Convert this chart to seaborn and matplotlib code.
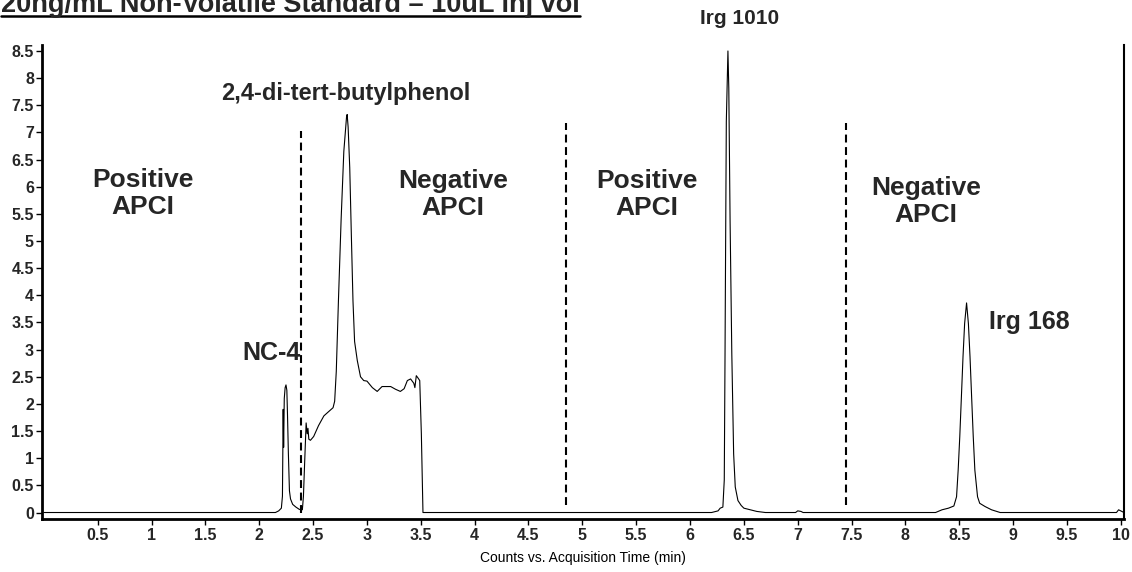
import matplotlib
matplotlib.use("Agg")
import matplotlib.pyplot as plt
import seaborn as sns
import pandas as pd
import numpy as np
from matplotlib.lines import Line2D
from matplotlib.ticker import FuncFormatter

# ---- data ----
time_min = [0.0, 2.15, 2.18, 2.205, 2.215, 2.222, 2.226, 2.232, 2.24, 2.248, 2.256,
            2.262, 2.27, 2.28, 2.29, 2.31, 2.34, 2.37, 2.385, 2.392, 2.40, 2.41,
            2.42, 2.435, 2.445, 2.452, 2.46, 2.475, 2.505, 2.55, 2.60, 2.645,
            2.685, 2.70, 2.715, 2.735, 2.76, 2.785, 2.81, 2.816, 2.825, 2.84,
            2.855, 2.87, 2.885, 2.91, 2.94, 2.97, 3.00, 3.05, 3.095, 3.14, 3.22,
            3.265, 3.31, 3.345, 3.375, 3.405, 3.435, 3.445, 3.458, 3.473, 3.49,
            3.505, 3.52, 6.20, 6.26, 6.28, 6.305, 6.318, 6.325, 6.33, 6.337,
            6.352, 6.36, 6.372, 6.388, 6.405, 6.42, 6.445, 6.475, 6.5, 6.62,
            6.7, 6.98, 7.0, 7.03, 7.05, 8.28, 8.34, 8.40, 8.45, 8.475, 8.49,
            8.505, 8.52, 8.535, 8.55, 8.568, 8.585, 8.60, 8.615, 8.63, 8.645,
            8.67, 8.69, 8.74, 8.80, 8.88, 9.96, 9.98, 10.0, 10.03]
counts = [0.0, 0.0, 0.03, 0.08, 0.3, 1.9, 1.2, 2.1, 2.3, 2.35, 2.25,
          1.8, 1.1, 0.4, 0.25, 0.15, 0.1, 0.06, 0.05, 0.12, 0.05, 0.3,
          0.85, 1.65, 1.45, 1.55, 1.35, 1.33, 1.4, 1.6, 1.78, 1.86,
          1.93, 2.05, 2.6, 3.9, 5.4, 6.65, 7.28, 7.33, 7.1, 6.35,
          5.1, 3.9, 3.15, 2.8, 2.5, 2.43, 2.42, 2.3, 2.23, 2.32, 2.32,
          2.27, 2.23, 2.28, 2.43, 2.46, 2.38, 2.3, 2.52, 2.48, 2.43,
          1.45, 0.0, 0.0, 0.03, 0.08, 0.1, 0.6, 2.9, 4.75, 7.2,
          8.5, 7.82, 5.37, 2.92, 1.08, 0.47, 0.22, 0.13, 0.08, 0.02,
          0.0, 0.0, 0.03, 0.02, 0.0, 0.0, 0.05, 0.08, 0.12, 0.29, 0.78,
          1.4, 2.13, 2.87, 3.48, 3.86, 3.48, 2.87, 2.13, 1.4, 0.78,
          0.29, 0.17, 0.11, 0.05, 0.0, 0.0, 0.05, 0.03, 0.0]

# segment dividers (dashed lines): position, bottom, top
divider_x = [2.387, 4.845, 7.445]
divider_bottom = [-0.01, 0.14, 0.14]
divider_top = [7.02, 7.17, 7.17]

# annotations
region_labels = ["Positive\nAPCI", "Negative\nAPCI", "Positive\nAPCI", "Negative\nAPCI"]
region_x = [0.92, 3.80, 5.60, 8.19]
region_y = [5.87, 5.85, 5.85, 5.72]

peak_labels = ["NC-4", "2,4-di-tert-butylphenol", "Irg 1010", "Irg 168"]
peak_x = [2.11, 2.80, 6.46, 9.15]
peak_y = [2.93, 7.72, 9.10, 3.50]
peak_sizes = [18, 17, 15, 18]

x_ticks = [0.5, 1, 1.5, 2, 2.5, 3, 3.5, 4, 4.5, 5, 5.5, 6, 6.5, 7, 7.5, 8, 8.5, 9, 9.5, 10]
y_ticks = [0, 0.5, 1, 1.5, 2, 2.5, 3, 3.5, 4, 4.5, 5, 5.5, 6, 6.5, 7, 7.5, 8, 8.5]

title_text = "20ng/mL Non-Volatile Standard \u2013 10uL inj vol"
x_label = "Counts vs. Acquisition Time (min)"

# ---- plotting ----
sns.set_theme(style="white")
plt.rcParams["font.family"] = ["Liberation Sans", "DejaVu Sans"]

fig = plt.figure(figsize=(11.32, 5.72), dpi=100)
ax = fig.add_axes([42.3 / 1132, 1 - 519.3 / 572, (1124 - 42.3) / 1132, (519.3 - 45) / 572])

df = pd.DataFrame({"time": time_min, "counts": counts})
sns.lineplot(data=df, x="time", y="counts", ax=ax, color="black", linewidth=0.8,
             estimator=None, sort=False)

ax.vlines(divider_x, divider_bottom, divider_top, colors="black",
          linestyles=(0, (3.8, 2.2)), linewidth=1.5)

for lab, x, y in zip(region_labels, region_x, region_y):
    ax.text(x, y, lab, ha="center", va="center", fontsize=19, fontweight="bold",
            linespacing=1.15, multialignment="center")

for lab, x, y, s in zip(peak_labels, peak_x, peak_y, peak_sizes):
    ax.text(x, y, lab, ha="center", va="center", fontsize=s, fontweight="bold",
            clip_on=False)

ax.set_xlim(-0.015, 10.03)
ax.set_ylim(-0.125, 8.61)
fmt = FuncFormatter(lambda v, p: f"{v:g}")
ax.set_xticks(x_ticks)
ax.set_yticks(y_ticks)
ax.xaxis.set_major_formatter(fmt)
ax.yaxis.set_major_formatter(fmt)

ax.tick_params(axis="both", which="major", direction="out", length=4, width=1,
               color="black", labelsize=11.5, pad=2, bottom=True, left=True)
for lab in ax.get_xticklabels() + ax.get_yticklabels():
    lab.set_fontweight("bold")

ax.set_xlabel(x_label, fontsize=10, labelpad=6, color="black")
ax.set_ylabel("")

for side in ["left", "bottom"]:
    ax.spines[side].set_linewidth(2.0)
    ax.spines[side].set_color("black")
ax.spines["right"].set_linewidth(1.5)
ax.spines["right"].set_color("black")
ax.spines["top"].set_visible(False)

t = fig.text(0.001, 1 - 11.5 / 572, title_text, ha="left", va="baseline",
             fontsize=19.5, fontweight="bold")

fig.canvas.draw()
bb = t.get_window_extent(renderer=fig.canvas.get_renderer())
W, H = fig.bbox.width, fig.bbox.height
uy = 1 - 15.5 / 572
fig.add_artist(Line2D([bb.x0 / W, bb.x1 / W], [uy, uy], transform=fig.transFigure,
                      color="black", linewidth=1.8))

fig.savefig("out.png", dpi=100)
